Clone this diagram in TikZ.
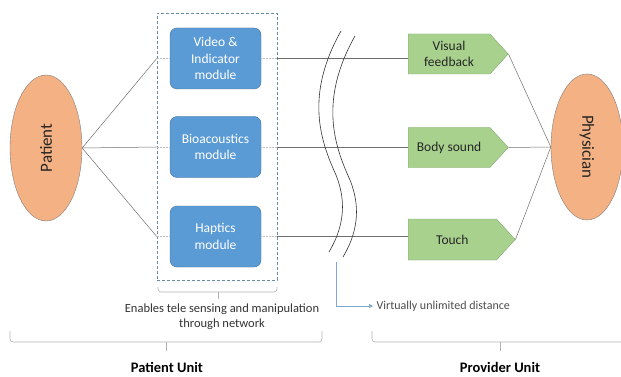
\documentclass[tikz,border=0pt]{standalone}
\usepackage{fontspec}
\setmainfont{Carlito}
\usetikzlibrary{arrows.meta, positioning, calc, shapes.geometric, shapes.symbols}

\definecolor{unitorange}{HTML}{F4B183}
\definecolor{unitline}{HTML}{7F7F7F}
\definecolor{moduleblue}{HTML}{5B9BD5}
\definecolor{moduleline}{HTML}{41719C}
\definecolor{cuegreen}{HTML}{A9D18E}
\definecolor{cueline}{HTML}{7FA86A}
\definecolor{linegray}{HTML}{6E6E6E}
\definecolor{boxblue}{HTML}{6A8AAA}
\definecolor{arrowblue}{HTML}{7FA7CF}

\begin{document}
\begin{tikzpicture}[
		x=1pt, y=-1pt,
		unit/.style={ellipse, draw=unitline, fill=unitorange, minimum width=146pt, minimum height=72pt, text=black!85, font=\fontsize{17}{20}\selectfont},
		module/.style={rectangle, draw=moduleline, fill=moduleblue, rounded corners=7pt, minimum width=91pt, minimum height=61pt, align=center, text=white, font=\fontsize{13.5}{16.5}\selectfont},
		cue/.style={signal, signal to=east, signal pointer angle=95, draw=cueline, fill=cuegreen, minimum width=100pt, minimum height=40pt, align=center, anchor=west, inner sep=1pt, text=black!85, font=\fontsize{13.5}{16.5}\selectfont},
		link/.style={draw=linegray, line width=0.5pt},
		hint/.style={draw=gray!50, densely dotted, line width=0.5pt},
		cut/.style={draw=black!80, line width=0.6pt},
		bracket/.style={draw=gray!60, line width=0.6pt, rounded corners=3pt},
		note/.style={text=black!80, align=center, font=\fontsize{12.5}{15}\selectfont},
		heading/.style={text=black, font=\fontsize{14.5}{17}\selectfont\bfseries}
		]
		
		\useasboundingbox (0,0) rectangle (621,377);
		
		% Patient and physician
		\node[unit, rotate=90] (patient) at (46,148) {Patient};
		\node[unit, rotate=-90] (physician) at (587,147) {Physician};
		
		% Network box with the three modules
		\node[draw=boxblue, dash pattern=on 3pt off 2pt, line width=0.6pt, minimum width=120pt, minimum height=267pt] (netbox) at (217,146.5) {};
		\node[module] (video) at (215.5,58.5) {Video \&\\Indicator\\module};
		\node[module] (bio) at (215.5,147) {Bioacoustics\\module};
		\node[module] (haptic) at (215.5,236.5) {Haptics\\module};
		
		% Feedback at the provider side
		\node[cue] (visual) at (408,54) {Visual\\feedback};
		\node[cue] (sound) at (408,147.5) {Body sound};
		\node[cue, minimum width=107pt, minimum height=41pt] (touch) at (408,239.5) {Touch};
		
		% Links from patient through modules to feedback
		\foreach \m/\c in {video/visual, bio/sound, haptic/touch} {
			\draw[link] (patient.south) -- (netbox.west |- \m);
			\draw[hint] (netbox.west |- \m) -- (\m.west);
			\draw[hint] (\m.east) -- (netbox.east |- \m);
			\draw[link] (netbox.east |- \m) -- (\m -| \c.west);
			\draw[link] (\c.east) -- (physician.south);
		}
		
		% Break in the lines
		\draw[cut] (341,31) .. controls (305,95) and (320,140) .. (336,175) .. controls (348,205) and (342,230) .. (329,252);
		\draw[cut, shift={(14,5)}] (341,31) .. controls (305,95) and (320,140) .. (336,175) .. controls (348,205) and (342,230) .. (329,252);
		
		% Distance note
		\coordinate (gap) at (336,262);
		\node[note, anchor=west, text=black!70, font=\fontsize{12}{14}\selectfont] (distance) at (373,306) {Virtually unlimited distance};
		\draw[draw=arrowblue, line width=0.6pt, -{Triangle[length=4pt, width=4pt]}] (gap) |- (distance.west);
		
		% Bracket under network box
		\draw[bracket] (158,287) -- (158,292) -- (277,292) -- (277,287);
		\draw[bracket] (218,292) -- (218,299);
		\node[note] (enables) at (222,317) {Enables tele sensing and manipulation\\through network};
		
		% Unit brackets
		\draw[bracket] (10,331) -- (10,342) -- (322,342) -- (322,331);
		\draw[bracket] (166,342) -- (166,351);
		\draw[bracket] (372,331) -- (372,342) -- (628,342);
		\draw[bracket] (500,342) -- (500,351);
		\node[heading] (patientunit) at (167,367) {Patient Unit};
		\node[heading] (providerunit) at (500,367) {Provider Unit};
		
	\end{tikzpicture}
\end{document}
